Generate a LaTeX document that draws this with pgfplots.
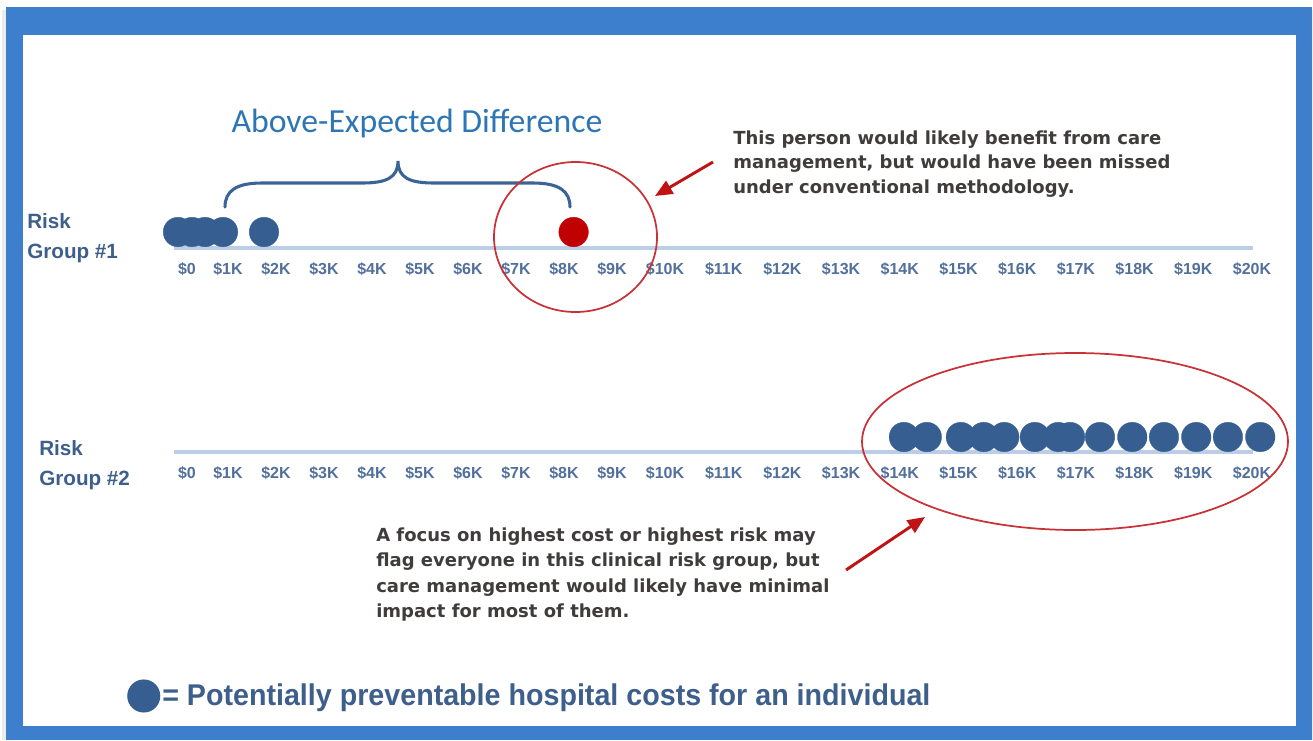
\documentclass[border=0pt]{standalone}
\usepackage{graphicx}
\usepackage{pgfplots}
\pgfplotsset{compat=1.18}
\usepackage{fontspec}
\setmainfont{Liberation Sans}
\newfontfamily\carlito{Carlito}
\newfontfamily\dejavu{DejaVu Sans}
\usetikzlibrary{arrows.meta}

\definecolor{frameblue}{RGB}{61,127,204}
\definecolor{dotblue}{RGB}{54,94,145}
\definecolor{dotred}{RGB}{192,0,0}
\definecolor{linecol}{RGB}{188,206,230}
\definecolor{tickcol}{RGB}{82,112,155}
\definecolor{labcol}{RGB}{62,95,140}
\definecolor{titlecol}{RGB}{46,117,182}
\definecolor{bracecol}{RGB}{59,100,150}
\definecolor{circcol}{RGB}{200,50,55}
\definecolor{arrowcol}{RGB}{192,20,20}
\definecolor{notecol}{RGB}{64,60,60}

% x values are costs in thousands of dollars
\pgfplotsset{
  riskaxis/.style={
    x=0.75pt, y=0.75pt,
    x coord trafo/.code={\pgfmathparse{(##1<=1) ? (178+50*##1) : ((##1<=9) ? (228+48*(##1-1)) : ((##1<=10) ? (612+53*(##1-9)) : (665+58.7*(##1-10))))}},
    xmin=-0.08, xmax=20.017,
    ymax=20,
    axis y line=none,
    axis x line*=bottom,
    x axis line style={draw=linecol, line width=2.4pt},
    xtick={0.18,1,2,3,4,5,6,7,8,9,10,11,12,13,14,15,16,17,18,19,20},
    xticklabels={\$0,\$1K,\$2K,\$3K,\$4K,\$5K,\$6K,\$7K,\$8K,\$9K,\$10K,\$11K,\$12K,\$13K,\$14K,\$15K,\$16K,\$17K,\$18K,\$19K,\$20K},
    major tick length=0pt,
    xticklabel style={font=\bfseries\fontsize{12}{12}\selectfont, text=tickcol, anchor=base, yshift=-20pt},
    clip=false, enlargelimits=false, axis on top=false,
    anchor=south west,
  },
  dots/.style={only marks, mark=*, mark size=11.1pt, mark options={draw=#1, fill=#1, line width=0.2pt}},
}

\begin{document}
\begin{tikzpicture}
\begin{scope}[x=0.75pt, y=-0.75pt]
  \useasboundingbox (0,0) rectangle (1313,740);
  \fill[white] (0,0) rectangle (1313,740);
  \fill[black!8] (2,10) rectangle (1313,740);
  \fill[frameblue] (6,7) rectangle (1312,740);
  \fill[white] (23,35) rectangle (1296,726);
\end{scope}

% Risk group 1
\begin{axis}[riskaxis, ymin=-16, at={(174*0.75pt,-248*0.75pt)}]
\addplot[dots=dotblue] coordinates {(0,0) (0.28,0) (0.54,0) (0.90,0) (1.75,0)};
\addplot[dots=dotred] coordinates {(8.2,0)};
\end{axis}

% Risk group 2
\begin{axis}[riskaxis, ymin=-15, at={(174*0.75pt,-452*0.75pt)},
  legend style={at={(axis description cs:-0.0436,-6.971)}, anchor=west, draw=none, fill=none, inner sep=0pt,
    nodes={inner sep=1.5pt}, font=\bfseries\fontsize{22.5}{22.5}\selectfont, text=labcol},
  legend cell align=left,
  legend image code/.code={\fill[fill=dotblue, draw=none] (12.4pt,0pt) circle[radius=12.4pt];},
]
\addplot[dots=dotblue] coordinates {(14.07,0) (14.46,0) (15.04,0) (15.43,0) (15.78,0) (16.30,0) (16.70,0) (16.90,0) (17.41,0) (17.96,0) (18.50,0) (19.05,0) (19.59,0) (20.14,0)};
\addlegendentry{\scalebox{0.955}[1]{= Potentially preventable hospital costs for an individual}}
\end{axis}

\begin{scope}[x=0.75pt, y=-0.75pt]
  % group labels
  \begin{scope}[every node/.style={anchor=base west, inner sep=0pt, text=labcol, font=\bfseries\fontsize{15.5}{15.5}\selectfont}]
    \node at (27,228) {Risk};
    \node at (27,258) {Group \#1};
    \node at (39,455) {Risk};
    \node at (39,485) {Group \#2};
  \end{scope}
  % title
  \node[anchor=base, inner sep=0pt, text=titlecol, font=\carlito\fontsize{25.3}{25.3}\selectfont] at (417,132) {Above-Expected Difference};
  % brace
  \draw[bracecol, line width=2.3pt, line cap=round]
    (225,207) .. controls (225,191) and (236,183) .. (262,183) -- (362,183)
    .. controls (386,183) and (398,178) .. (398,161)
    .. controls (398,178) and (410,183) .. (434,183) -- (533,183)
    .. controls (559,183) and (570,191) .. (570,207);
  % circles
  \draw[circcol, line width=1.3pt] (575.5,237) ellipse [x radius=81.5, y radius=75];
  \draw[circcol, line width=1.3pt] (1075,441.5) ellipse [x radius=213, y radius=88.5];
  % arrows
  \draw[arrowcol, line width=2.2pt, -{Triangle[length=13pt, width=11pt]}] (713,162) -- (655,196);
  \draw[arrowcol, line width=2.2pt, -{Triangle[length=13pt, width=11pt]}] (846,570) -- (925,517);
  % notes
  \begin{scope}[every node/.style={anchor=base west, inner sep=0pt, text=notecol, font=\dejavu\bfseries\fontsize{13.5}{13.5}\selectfont}]
    \node at (733,144) {This person would likely benefit from care};
    \node at (733,168.5) {management, but would have been missed};
    \node at (733,193) {under conventional methodology.};
    \node at (376,541) {A focus on highest cost or highest risk may};
    \node at (376,566.5) {flag everyone in this clinical risk group, but};
    \node at (376,592) {care management would likely have minimal};
    \node at (376,617.5) {impact for most of them.};
  \end{scope}
\end{scope}
\end{tikzpicture}
\end{document}
